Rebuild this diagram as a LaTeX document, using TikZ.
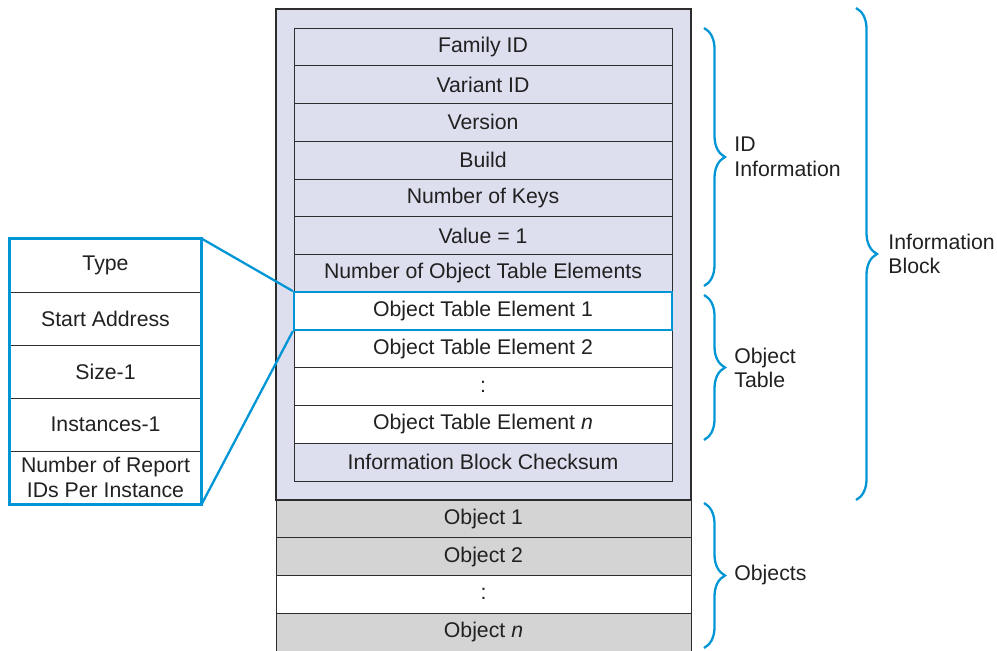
\documentclass[tikz,border=0pt]{standalone}
\usepackage{fontspec}
\setmainfont{Liberation Sans}
\usetikzlibrary{decorations.pathreplacing}

\definecolor{lav}{RGB}{221,222,238}
\definecolor{objgray}{RGB}{212,212,212}
\definecolor{cyanblue}{RGB}{0,150,214}
\definecolor{edge}{RGB}{45,45,45}

\begin{document}
\begin{tikzpicture}[x=0.02cm,y=-0.02cm,
  every node/.style={font=\fontsize{12.1}{14}\selectfont, text=black!87, inner sep=0pt},
  outerbox/.style={draw=edge, line width=0.9pt, fill=lav, minimum width=415*0.02cm, minimum height=491*0.02cm},
  tabrow/.style={draw=edge, line width=0.55pt, fill=#1, minimum width=378*0.02cm, minimum height=37.75*0.02cm},
  objrow/.style={draw=edge, line width=0.55pt, fill=#1, minimum width=415*0.02cm, minimum height=37.75*0.02cm},
  fieldrow/.style={draw=edge, line width=0.55pt, fill=white, minimum width=191*0.02cm, minimum height=53*0.02cm, align=center},
  hilite/.style={draw=cyanblue, line width=1.3pt},
  bluebrace/.style={draw=cyanblue, line width=1.3pt, decorate, decoration={brace, amplitude=21*0.02cm}},
  bracelabel/.style={anchor=west, align=left}
]
\useasboundingbox (0,0) rectangle (997,651);

% information block frame
\node[outerbox] (ib) at (483.5,254.5) {};

% ID information and object table rows
\foreach \name/\txt/\col [count=\i from 0] in {
  fam/{Family ID}/lav,
  var/{Variant ID}/lav,
  ver/{Version}/lav,
  bld/{Build}/lav,
  nkeys/{Number of Keys}/lav,
  val/{Value = 1}/lav,
  nelem/{Number of Object Table Elements}/lav,
  ote1/{Object Table Element 1}/white,
  ote2/{Object Table Element 2}/white,
  otedots/{:}/white,
  oten/{Object Table Element \textit{n}}/white,
  chk/{Information Block Checksum}/lav}
  \node[tabrow=\col] (\name) at (483, 28+37.75*\i+18.875) {\txt};

% highlighted table element
\node[hilite, minimum width=378*0.02cm, minimum height=37.75*0.02cm] (ote1hl) at (ote1) {};

% objects
\foreach \name/\txt/\col [count=\i from 0] in {
  obj1/{Object 1}/objgray,
  obj2/{Object 2}/objgray,
  objdots/{:}/white,
  objn/{Object \textit{n}}/objgray}
  \node[objrow=\col] (\name) at (483.5, 500+37.75*\i+18.875) {\txt};

% expanded table element fields
\foreach \name/\txt [count=\i from 0] in {
  ftype/{Type},
  fstart/{Start Address},
  fsize/{Size-1},
  finst/{Instances-1},
  frep/{Number of Report\\IDs Per Instance}}
  \node[fieldrow] (\name) at (105.5, 239+53*\i+26.5) {\txt};
\draw[hilite] (ftype.north west) rectangle (frep.south east);

% zoom connectors
\draw[hilite] (ftype.north east) -- (ote1hl.north west);
\draw[hilite] (frep.south east) -- (ote1hl.south west);

% braces
\coordinate (idtop) at (704,28);
\coordinate (idbot) at (704,286);
\coordinate (ottop) at (704,295);
\coordinate (otbot) at (704,440);
\coordinate (objtop) at (704,503);
\coordinate (objbot) at (704,648);
\coordinate (ibtop) at (856,8);
\coordinate (ibbot) at (856,500);
\draw[bluebrace] (idtop) -- (idbot);
\draw[bluebrace] (ottop) -- (otbot);
\draw[bluebrace] (objtop) -- (objbot);
\draw[bluebrace] (ibtop) -- (ibbot);

\node[bracelabel] (lid) at (734,157) {ID\\Information};
\node[bracelabel] (lot) at (734,368) {Object\\Table};
\node[bracelabel] (lobj) at (734,575) {Objects};
\node[bracelabel] (lib) at (888,254) {Information\\Block};
\end{tikzpicture}
\end{document}
